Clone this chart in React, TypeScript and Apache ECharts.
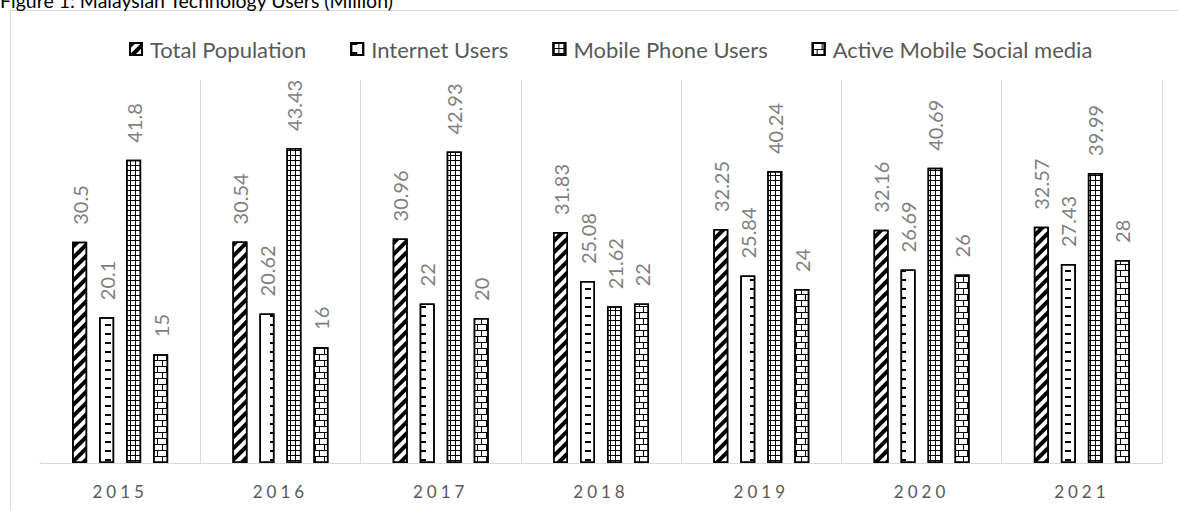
import React, { useEffect, useRef } from "react";
import * as echarts from "echarts";

const years = ["2015", "2016", "2017", "2018", "2019", "2020", "2021"];
const totalPopulation = [30.5, 30.54, 30.96, 31.83, 32.25, 32.16, 32.57];
const internetUsers = [20.1, 20.62, 22, 25.08, 25.84, 26.69, 27.43];
const mobilePhoneUsers = [41.8, 43.43, 42.93, 21.62, 40.24, 40.69, 39.99];
const activeMobileSocial = [15, 16, 20, 22, 24, 26, 28];
const seriesNames = ["Total Population", "Internet Users", "Mobile Phone Users", "Active Mobile Social media"];
const titleText = "Figure 1: Malaysian Technology Users (Million)";

const decals: any[] = [
  { symbol: "rect", color: "#000", dashArrayX: [1, 0], dashArrayY: [4, 4], rotation: -Math.PI / 4, symbolSize: 1 },
  { symbol: "rect", color: "#000", dashArrayX: [[6, 9]], dashArrayY: [2, 7], symbolSize: 1 },
  { symbol: "rect", color: "#000", dashArrayX: [[1, 0], [1, 4]], dashArrayY: [1, 0, 4, 0], symbolSize: 1 },
  {
    symbol: "rect",
    color: "#000",
    dashArrayX: [[1, 0], [1, 8], [1, 0], [0, 4, 1, 4]],
    dashArrayY: [1, 0, 5, 0, 1, 0, 5, 0],
    symbolSize: 1,
  },
];

export default function App() {
  const ref = useRef<HTMLDivElement>(null);
  useEffect(() => {
    if (!ref.current) return;
    const chart = echarts.init(ref.current, null, { renderer: "svg" });
    const dataSets = [totalPopulation, internetUsers, mobilePhoneUsers, activeMobileSocial];
    chart.setOption({
      animation: false,
      backgroundColor: "#fff",
      textStyle: { fontFamily: "Lato" },
      graphic: [
        {
          type: "rect",
          shape: { x: 10.5, y: 10.5, width: 1300, height: 700 },
          style: { fill: "none", stroke: "#d9d9d9", lineWidth: 1 },
          silent: true,
          z: -10,
        },
        {
          type: "rect",
          shape: { x: 38, y: 78, width: 4, height: 384 },
          style: { fill: "#fff" },
          silent: true,
          z: 5,
        },
        {
          type: "text",
          left: 0,
          top: -10,
          style: { text: titleText, font: "19.5px Lato", fill: "#000" },
        },
      ],
      legend: {
        top: 33,
        left: 124,
        icon: "rect",
        itemWidth: 12,
        itemHeight: 12,
        itemGap: 44,
        textStyle: { fontFamily: "Lato", fontSize: 22, color: "#595959", padding: [0, 0, 0, 3] },
        data: seriesNames,
      },
      grid: { left: 40, right: 16, top: 80, bottom: 48 },
      xAxis: {
        type: "category",
        data: years,
        axisLine: { lineStyle: { color: "#d9d9d9", width: 1 } },
        axisTick: { show: false },
        axisLabel: { color: "#595959", fontSize: 17, fontFamily: "Lato", margin: 20 },
        splitLine: {
          show: true,
          lineStyle: { color: "#d9d9d9", width: 1 },
        },
      },
      yAxis: {
        type: "value",
        min: 0,
        max: 52.8,
        show: false,
        splitLine: { show: false },
      },
      series: seriesNames.map((name, i) => ({
        name,
        type: "bar",
        data: dataSets[i],
        barWidth: 15,
        barGap: "80%",
        itemStyle: { color: "#fff", borderColor: "#000", borderWidth: 1.5, decal: decals[i] },
        label: {
          show: true,
          position: "top",
          rotate: 90,
          align: "left",
          verticalAlign: "middle",
          distance: 17,
          color: "#7f7f7f",
          fontSize: 20,
          fontFamily: "Lato",
        },
      })),
    });
    ref.current.querySelectorAll("text").forEach((t) => {
      if (/^20\d\d$/.test((t.textContent || "").trim())) {
        t.setAttribute("letter-spacing", "4");
      }
    });
    return () => chart.dispose();
  }, []);
  return (
    <div
      ref={ref}
      style={{ position: "fixed", left: 0, top: 0, width: 1178, height: 511 }}
    />
  );
}
